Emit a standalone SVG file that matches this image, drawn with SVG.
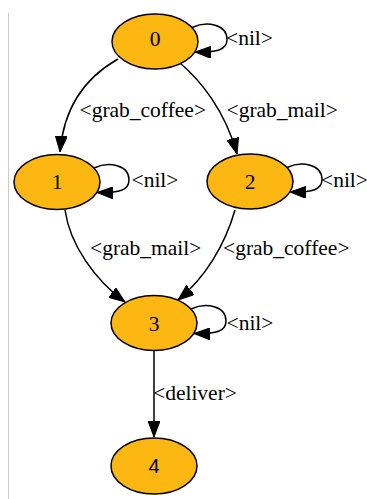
<svg xmlns="http://www.w3.org/2000/svg" width="367" height="499" viewBox="0 0 367 499">
<style>
.node ellipse{fill:#fcb712;stroke:#000;stroke-width:1.5}
.nl{font-family:"Liberation Serif","Times New Roman",serif;font-size:21.5px;fill:#000;text-anchor:middle}
.nls{font-family:"Liberation Sans",Arial,sans-serif;font-size:20px;fill:#000;text-anchor:middle}
.edge{fill:none;stroke:#000;stroke-width:1.5}
.el{font-family:"Liberation Serif","Times New Roman",serif;font-size:21.5px;fill:#000}
</style>
<defs>
<marker id="ah" viewBox="0 0 16 12" refX="16" refY="6" markerWidth="16" markerHeight="12" markerUnits="userSpaceOnUse" orient="auto">
<path d="M0,0 L16,6 L0,12 z" fill="#000" stroke="#000" stroke-width="1"/>
</marker>
<path id="loop" d="M37,-14 C52,-21 72,-17 72,-2 C72,8 63,11 40,10.5"/>
</defs>
<rect width="367" height="499" fill="#fff"/>
<line x1="8.5" y1="13" x2="8.5" y2="499" stroke="#cccccc" stroke-width="1"/>
<g id="edges">
<path class="edge" d="M118,59 C88,76 64,104 60,152" marker-end="url(#ah)"/>
<path class="edge" d="M180,63 C200,80 225,110 237,154" marker-end="url(#ah)"/>
<path class="edge" d="M65,210 C70,245 95,280 125,302" marker-end="url(#ah)"/>
<path class="edge" d="M235,210 C225,245 205,278 178,300" marker-end="url(#ah)"/>
<path class="edge" d="M154,351 L154,437" marker-end="url(#ah)"/>
<use href="#loop" class="edge" transform="translate(155,41.5)" marker-end="url(#ah)"/>
<use href="#loop" class="edge" transform="translate(57,182)" marker-end="url(#ah)"/>
<use href="#loop" class="edge" transform="translate(250,181.5)" marker-end="url(#ah)"/>
<use href="#loop" class="edge" transform="translate(154,323)" marker-end="url(#ah)"/>
<text class="el" x="226" y="45">&lt;nil&gt;</text>
<text class="el" x="79.5" y="117">&lt;grab_coffee&gt;</text>
<text class="el" x="226.5" y="117">&lt;grab_mail&gt;</text>
<text class="el" x="131.5" y="187">&lt;nil&gt;</text>
<text class="el" x="321" y="187">&lt;nil&gt;</text>
<text class="el" x="90" y="255">&lt;grab_mail&gt;</text>
<text class="el" x="223" y="255">&lt;grab_coffee&gt;</text>
<text class="el" x="226.5" y="330">&lt;nil&gt;</text>
<text class="el" x="153" y="400">&lt;deliver&gt;</text>
</g>
<g id="n0" class="node"><ellipse cx="155" cy="41.5" rx="43" ry="27.5"/><text class="nl" x="155" y="46">0</text></g>
<g id="n1" class="node"><ellipse cx="57" cy="182" rx="43" ry="27.5"/><text class="nl" x="57" y="189">1</text></g>
<g id="n2" class="node"><ellipse cx="250" cy="181.5" rx="43" ry="27.5"/><text class="nl" x="250" y="189">2</text></g>
<g id="n3" class="node"><ellipse cx="154" cy="323" rx="43" ry="27.5"/><text class="nl" x="154" y="331">3</text></g>
<g id="n4" class="node"><ellipse cx="154" cy="466" rx="43" ry="28"/><text class="nls" x="154" y="473">4</text></g>
</svg>
